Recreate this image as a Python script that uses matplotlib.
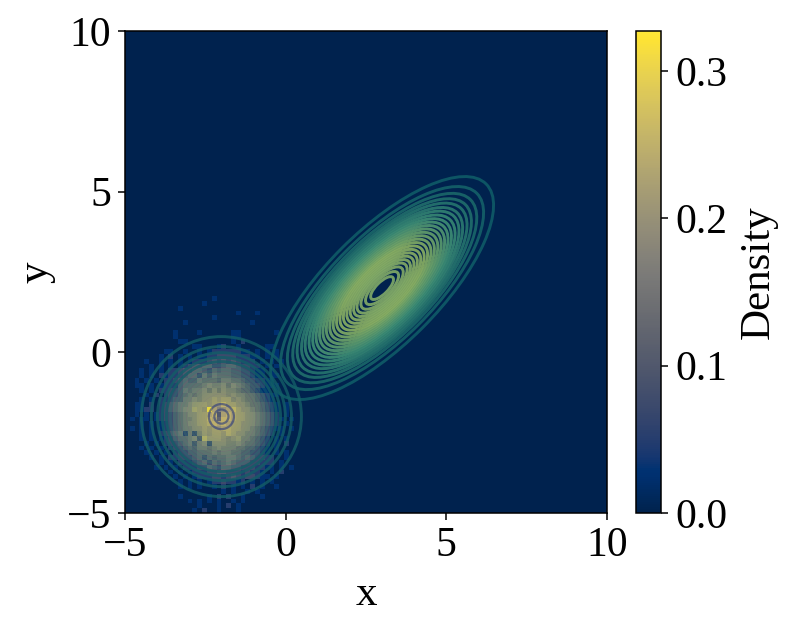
import numpy as np
import matplotlib.pyplot as plt
from matplotlib.colors import LinearSegmentedColormap
from matplotlib.patches import Ellipse

plt.rcParams['font.family'] = ['Liberation Serif', 'DejaVu Serif']

# histogram cells, top row first, in steps of 0.025 density
# each row starts at x = -5, the last row is y = -5
hist_step = 0.025
hist_rows = [
    "",
    "..................1",
    "................1",
    "...........1",
    ".......................1...1",
    "..................1",
    "............1.............1",
    "",
    "..........1....1......11.......1",
    "..........1...........11",
    "...........11.........1.2",
    "..............11...12..1.....11",
    "........11..1..1.122222211.1.1.1",
    ".......1.2.1.1.1122333322211.1.1",
    "....1..1.1.1.12223434343222.1.1.1",
    ".....1.1.1.12344553345543322.1.1",
    "...1.1.1.22344554354554433211.1",
    "...1.1.2122345536465554433211.11",
    "..1.1.1.22345446555466554332211",
    "..11.1.1222455556766757654332111",
    "...1.1.22334656675757665443211.1",
    "....1.2.233456567777767665543211",
    "...1.1.223446676778788676554321",
    "..11.2.2345667888788a88776554321.1",
    "..1122.2345677987d9789a877654321.1",
    "..1.1.123345677889a49a9887765432.1",
    ".1.11.12334566788a95aa98877654321.1",
    "...1.1.12345677889a9a98877765432.1",
    ".1.1.1.12345667787889988776543211.1",
    "...1.1.234562626878879877665432.1",
    "...1.1.123455673a8887678665432.1.1",
    "....1.1.2334563672777667655432.1.2",
    "...1.1.1.233454665676665544321.1",
    "....1.1.1.23344555656655443321.1.1",
    ".....1.1.2233345354556654543322..1",
    ".......1.1.22234535456544433222.1",
    "......1.1.1.2223354355443332211.1.1",
    ".........1.1.1222334433323221.1.2",
    "..........1.1.1222332343233211.1",
    "...........1.1.1.12232212.1.1.1",
    "...........1.1.1..1.2.1.1.2.1..1",
    "....................1.1..1.1",
    "...........1.....1.2.2..1...1",
    ".............1.1.1.1..1.1",
    "...............1...1.2.1",
    "..............1.2..1...1",
]

# semi major axes of the tilted contour rings, outermost first
big_major = [4.58, 4.17, 3.89, 3.67, 3.49, 3.31, 3.16, 3.00, 2.85, 2.71,
             2.57, 2.43, 2.29, 2.15, 2.01, 1.87, 1.73, 1.59, 1.45, 1.31,
             1.17, 1.03, 0.87, 0.68, 0.47]
big_center = (3, 2)
big_ratio = 0.385
big_angle = 45

# radii of the round contour rings, outermost first
small_radius = [2.49, 2.18, 1.99, 1.84, 1.71, 1.59, 1.46, 1.35, 1.24, 1.14,
                1.03, 0.93, 0.84, 0.75, 0.65, 0.56, 0.47, 0.39, 0.22]
small_center = (-2, -2)

n_bins = 100
edges_x = np.linspace(-5, 10, n_bins + 1)
edges_y = np.linspace(-5, 10, n_bins + 1)

H = np.zeros((n_bins, n_bins))
for r, row in enumerate(hist_rows):
    j = len(hist_rows) - 1 - r
    for i, c in enumerate(row):
        if c != '.':
            H[j, i] = int(c, 16) * hist_step

figure = plt.figure(figsize=(7.94, 6.31), dpi=100)
axes = figure.add_axes([125 / 794, 1 - 513 / 631, 482 / 794, 482 / 631])
cax = figure.add_axes([636 / 794, 1 - 513 / 631, 25 / 794, 482 / 631])

mesh = axes.pcolormesh(edges_x, edges_y, H, cmap='cividis', vmin=0, vmax=0.327)

big_cmap = LinearSegmentedColormap.from_list("big", ["#0f5a66", "#3c8c74", "#88ae62", "#7fa868"])
small_cmap = LinearSegmentedColormap.from_list("small", ["#1f8074", "#6fa066", "#b4bd55"])
for k, a in enumerate(big_major):
    axes.add_patch(Ellipse(big_center, 2 * a, 2 * a * big_ratio, angle=big_angle, fill=False,
                           ec=big_cmap(k / (len(big_major) - 1)), alpha=0.92, lw=2.1))
for k, r in enumerate(small_radius):
    if k < 5:
        color, alpha, width = big_cmap(0.03), 0.8, 2.1
    elif r < 0.45:
        color, alpha, width = "#34437a", 0.65, 1.6
    else:
        color, alpha, width = small_cmap((k - 5) / 11), 0.3, 2.1
    axes.add_patch(Ellipse(small_center, 2 * r, 2 * r, fill=False, ec=color, alpha=alpha, lw=width))

axes.set_xlim(-5, 10)
axes.set_ylim(-5, 10)
axes.set_xticks([-5, 0, 5, 10])
axes.set_yticks([-5, 0, 5, 10])
axes.tick_params(labelsize=30, length=5, width=1.1, pad=5)
axes.set_xlabel("x", fontsize=31, labelpad=7)
axes.set_ylabel("y", fontsize=31, labelpad=8)
for s in axes.spines.values():
    s.set_linewidth(1.1)

cb = figure.colorbar(mesh, cax=cax)
cb.set_ticks([0.0, 0.1, 0.2, 0.3])
cb.ax.tick_params(labelsize=30, length=5, width=1.1, pad=5)
cb.set_label("Density", fontsize=31, labelpad=9)
cb.outline.set_linewidth(1.1)

figure.savefig("out.png", dpi=100)
